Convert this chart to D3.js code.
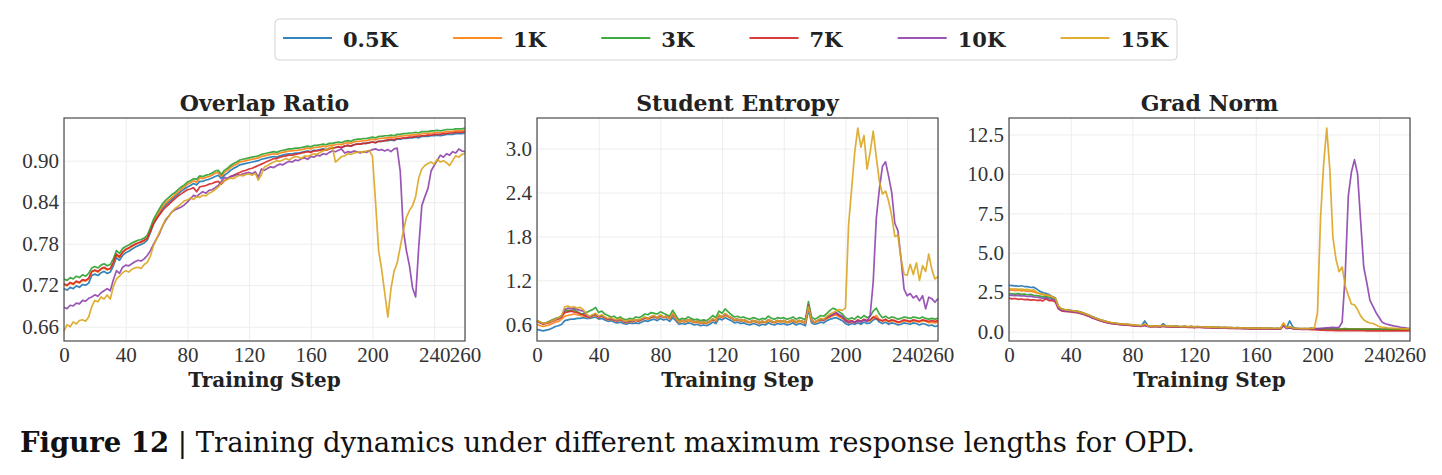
<!DOCTYPE html>
<html>
<head>
<meta charset="utf-8">
<script src="https://cdn.jsdelivr.net/npm/d3@7"></script>
<style>
  body { margin: 0; background: #fff; }
  .grid line { stroke: #ededed; stroke-width: 1; }
  .grid path { display: none; }
  .axis path { display: none; }
  .axis text { font-family: "Liberation Serif", serif; font-size: 21px; fill: #333; }
</style>
</head>
<body>
<script>
// x grid: training steps (every 2nd step)
var steps = d3.range(0, 261, 2);
var names = ["0.5K", "1K", "3K", "7K", "10K", "15K"];
var colors = ["#1f77b4", "#ff7f0e", "#2ca02c", "#d62728", "#8e44ad", "#daa520"];
var xTicks = [0, 40, 80, 120, 160, 200, 240, 260];
var ovlTicks = [0.66, 0.72, 0.78, 0.84, 0.90];
var entTicks = [0.6, 1.2, 1.8, 2.4, 3.0];
var gradTicks = [0, 2.5, 5, 7.5, 10, 12.5];

// ---- Overlap Ratio ----
var ovl_05k = [.715,.713,.717,.715,.719,.717,.721,.720,.723,.734,.736,.734,.738,.740,.737,.739,
  .748,.760,.756,.763,.767,.769,.772,.775,.777,.779,.781,.785,.796,.808,.816,.824,
  .831,.836,.840,.844,.848,.852,.856,.859,.862,.864,.867,.865,.870,.870,.872,.873,
  .875,.877,.879,.874,.879,.882,.886,.889,.891,.894,.895,.896,.897,.898,.899,.900,
  .902,.903,.904,.905,.906,.905,.907,.908,.909,.910,.910,.911,.911,.912,.913,.914,
  .913,.915,.915,.916,.917,.916,.918,.918,.919,.920,.919,.921,.922,.921,.923,.924,
  .924,.925,.925,.926,.927,.926,.928,.928,.929,.929,.930,.929,.931,.931,.932,.932,
  .933,.933,.934,.933,.935,.935,.935,.936,.936,.937,.936,.937,.938,.938,.938,.939,
  .939,.939,.940];
var ovl_1k = [.721,.719,.723,.721,.725,.723,.727,.726,.729,.739,.741,.739,.743,.745,.742,.744,
  .752,.764,.760,.767,.771,.773,.776,.779,.781,.782,.784,.788,.799,.811,.819,.827,
  .834,.839,.843,.847,.851,.855,.859,.862,.866,.868,.871,.869,.875,.874,.876,.877,
  .879,.882,.883,.877,.883,.886,.890,.893,.895,.898,.899,.900,.901,.902,.903,.904,
  .906,.907,.908,.909,.910,.909,.911,.912,.913,.914,.914,.915,.915,.916,.917,.918,
  .917,.919,.919,.920,.921,.920,.922,.922,.923,.924,.923,.925,.926,.925,.927,.928,
  .928,.929,.929,.930,.931,.930,.932,.932,.933,.933,.934,.933,.935,.935,.936,.936,
  .937,.937,.938,.937,.939,.939,.939,.940,.940,.941,.940,.941,.942,.942,.942,.943,
  .943,.943,.944];
var ovl_3k = [.729,.727,.731,.729,.733,.731,.735,.733,.737,.745,.747,.745,.749,.751,.748,.750,
  .758,.770,.766,.773,.776,.778,.781,.783,.785,.786,.788,.792,.803,.815,.823,.831,
  .838,.843,.847,.851,.854,.858,.862,.865,.869,.871,.874,.873,.878,.877,.879,.880,
  .882,.885,.886,.880,.886,.889,.893,.896,.898,.901,.902,.903,.904,.905,.906,.907,
  .909,.910,.911,.912,.913,.912,.914,.915,.916,.917,.917,.918,.918,.919,.920,.921,
  .920,.922,.922,.923,.924,.923,.925,.925,.926,.927,.926,.928,.929,.928,.930,.931,
  .931,.932,.932,.933,.934,.933,.935,.935,.936,.936,.937,.936,.938,.938,.939,.939,
  .940,.940,.941,.940,.942,.942,.942,.943,.943,.944,.943,.944,.945,.945,.945,.946,
  .946,.946,.947];
var ovl_7k = [.722,.720,.724,.722,.726,.724,.728,.727,.730,.740,.742,.740,.744,.746,.743,.744,
  .753,.765,.761,.768,.772,.774,.777,.779,.781,.783,.785,.788,.798,.809,.816,.822,
  .828,.833,.837,.841,.845,.849,.852,.855,.858,.859,.861,.855,.862,.863,.864,.866,
  .867,.869,.870,.866,.871,.874,.877,.879,.881,.883,.885,.886,.888,.889,.891,.893,
  .895,.897,.899,.901,.903,.903,.905,.906,.907,.908,.908,.909,.910,.911,.912,.913,
  .912,.914,.914,.915,.916,.915,.917,.918,.919,.920,.919,.921,.922,.921,.923,.924,
  .924,.925,.925,.926,.927,.926,.928,.928,.929,.930,.931,.930,.932,.932,.933,.933,
  .934,.934,.935,.935,.936,.936,.937,.937,.938,.938,.938,.939,.939,.940,.940,.941,
  .941,.941,.942];
var ovl_10k = [.688,.686,.691,.690,.694,.693,.698,.697,.701,.703,.706,.704,.709,.712,.715,.712,
  .728,.741,.737,.746,.749,.748,.751,.754,.756,.755,.758,.763,.770,.779,.787,.795,
  .806,.814,.820,.826,.829,.831,.833,.836,.840,.845,.850,.848,.852,.855,.853,.857,
  .858,.861,.864,.870,.876,.874,.877,.878,.880,.879,.881,.882,.883,.881,.884,.876,
  .888,.886,.889,.891,.890,.893,.895,.894,.897,.899,.898,.901,.900,.903,.904,.902,
  .906,.905,.908,.907,.910,.909,.912,.914,.913,.915,.917,.911,.913,.912,.914,.913,
  .911,.913,.912,.914,.916,.917,.915,.916,.914,.916,.913,.917,.918,.885,.800,.770,
  .748,.716,.703,.775,.835,.848,.860,.885,.893,.900,.908,.905,.910,.908,.913,.911,
  .917,.914,.913];
var ovl_15k = [.654,.663,.660,.667,.664,.669,.670,.668,.674,.689,.698,.696,.703,.700,.706,.700,
  .718,.729,.733,.738,.741,.739,.743,.745,.746,.744,.750,.753,.762,.777,.787,.797,
  .806,.816,.820,.826,.831,.834,.838,.842,.843,.846,.844,.848,.847,.850,.849,.853,
  .855,.858,.862,.867,.871,.873,.875,.874,.877,.879,.878,.880,.881,.879,.882,.872,
  .880,.891,.893,.896,.898,.900,.899,.901,.903,.901,.904,.906,.905,.903,.907,.906,
  .908,.910,.909,.912,.914,.916,.918,.920,.898,.902,.906,.907,.910,.909,.911,.912,
  .913,.912,.914,.915,.906,.840,.770,.742,.708,.674,.715,.740,.752,.775,.798,.818,
  .828,.835,.848,.875,.888,.893,.896,.898,.895,.902,.898,.900,.897,.893,.900,.907,
  .905,.909,.910];

// ---- Student Entropy ----
var ent_05k = [.53,.52,.51,.52,.53,.55,.57,.58,.60,.65,.66,.67,.67,.68,.68,.69,
  .68,.68,.69,.70,.67,.68,.66,.64,.65,.63,.62,.63,.61,.60,.62,.61,
  .62,.61,.63,.65,.64,.66,.67,.65,.68,.66,.67,.64,.69,.65,.60,.61,
  .60,.62,.61,.59,.60,.58,.59,.58,.60,.63,.61,.68,.66,.69,.67,.65,
  .62,.63,.61,.62,.60,.59,.61,.60,.58,.60,.59,.62,.60,.59,.61,.60,
  .61,.59,.60,.62,.59,.61,.60,.58,.80,.62,.60,.61,.63,.62,.65,.67,
  .68,.69,.67,.65,.61,.59,.61,.60,.62,.60,.63,.61,.62,.66,.68,.63,
  .61,.63,.60,.62,.61,.59,.60,.62,.61,.60,.62,.61,.59,.61,.60,.58,
  .59,.57,.58];
var ent_1k = [.60,.58,.57,.58,.59,.61,.63,.64,.67,.71,.72,.73,.74,.73,.72,.71,
  .70,.69,.71,.72,.69,.71,.68,.66,.67,.65,.64,.66,.63,.62,.64,.63,
  .65,.64,.66,.68,.67,.69,.70,.68,.71,.69,.70,.67,.72,.68,.62,.64,
  .63,.65,.64,.62,.63,.61,.62,.61,.63,.66,.64,.71,.69,.72,.70,.68,
  .65,.66,.64,.65,.63,.62,.64,.63,.61,.63,.62,.65,.63,.62,.64,.63,
  .64,.62,.63,.65,.62,.64,.63,.61,.84,.65,.62,.64,.66,.65,.68,.70,
  .72,.73,.70,.68,.64,.62,.63,.62,.65,.63,.66,.64,.65,.69,.72,.66,
  .64,.66,.63,.65,.64,.62,.63,.65,.64,.63,.65,.64,.63,.65,.64,.62,
  .63,.62,.63];
var ent_3k = [.65,.63,.61,.62,.64,.66,.68,.69,.72,.78,.79,.78,.80,.77,.75,.74,
  .76,.78,.80,.83,.76,.78,.74,.72,.70,.71,.68,.70,.67,.66,.68,.67,
  .70,.69,.71,.74,.73,.76,.75,.74,.77,.75,.73,.71,.79,.72,.66,.68,
  .67,.70,.68,.66,.67,.65,.66,.65,.68,.72,.69,.78,.75,.81,.77,.73,
  .70,.71,.69,.70,.68,.67,.69,.68,.66,.68,.67,.71,.68,.67,.69,.68,
  .69,.67,.68,.70,.67,.69,.68,.66,.91,.70,.67,.69,.72,.71,.75,.79,
  .82,.80,.77,.74,.69,.67,.69,.67,.71,.68,.72,.69,.71,.78,.82,.74,
  .69,.71,.68,.70,.69,.67,.68,.70,.69,.68,.70,.69,.68,.70,.68,.67,
  .68,.67,.68];
var ent_7k = [.64,.62,.60,.61,.62,.64,.66,.67,.70,.76,.77,.78,.77,.76,.74,.73,
  .71,.70,.72,.74,.70,.72,.69,.67,.68,.66,.65,.67,.64,.63,.65,.64,
  .66,.65,.67,.69,.68,.70,.71,.69,.72,.70,.71,.68,.74,.69,.63,.65,
  .64,.66,.65,.63,.64,.62,.63,.62,.64,.67,.65,.72,.70,.74,.71,.69,
  .66,.67,.65,.66,.64,.63,.65,.64,.62,.64,.63,.66,.64,.63,.65,.64,
  .65,.63,.64,.66,.63,.65,.64,.62,.86,.66,.63,.65,.67,.66,.69,.71,
  .73,.75,.72,.70,.66,.64,.65,.63,.66,.64,.67,.65,.66,.70,.68,.66,
  .65,.67,.64,.66,.65,.63,.64,.66,.65,.64,.66,.65,.64,.66,.65,.64,
  .65,.64,.65];
var ent_10k = [.64,.62,.61,.62,.63,.65,.67,.68,.71,.80,.82,.81,.82,.80,.79,.78,
  .72,.70,.72,.74,.70,.72,.69,.67,.68,.66,.65,.67,.64,.63,.65,.64,
  .66,.65,.67,.69,.68,.70,.71,.69,.72,.70,.71,.68,.74,.69,.63,.65,
  .64,.66,.65,.63,.64,.62,.63,.62,.64,.67,.65,.72,.70,.74,.71,.69,
  .66,.67,.65,.66,.64,.63,.65,.64,.62,.64,.63,.66,.64,.63,.65,.64,
  .65,.63,.64,.66,.63,.65,.64,.62,.85,.66,.63,.65,.67,.66,.70,.72,
  .74,.76,.73,.71,.64,.62,.64,.62,.65,.63,.66,.64,.72,1.18,2.05,2.45,
  2.76,2.82,2.62,2.40,1.98,1.88,1.50,1.08,.99,1.02,.96,.99,.92,.99,.81,.97,
  .95,.90,.95];
var ent_15k = [.65,.63,.61,.62,.63,.65,.67,.69,.72,.84,.85,.83,.84,.82,.83,.80,
  .74,.71,.73,.75,.71,.73,.70,.68,.69,.67,.66,.68,.65,.64,.66,.65,
  .66,.66,.68,.70,.68,.71,.72,.69,.73,.70,.71,.68,.75,.69,.63,.65,
  .64,.66,.65,.63,.64,.62,.63,.62,.64,.68,.65,.73,.70,.75,.71,.69,
  .66,.67,.65,.66,.64,.63,.65,.64,.62,.64,.63,.66,.64,.63,.65,.64,
  .65,.63,.64,.66,.63,.65,.64,.62,.84,.66,.63,.65,.68,.67,.71,.74,
  .76,.78,.80,.79,.82,1.95,2.45,2.95,3.28,3.02,3.18,2.72,2.95,3.24,2.88,2.55,
  2.38,2.42,2.28,2.08,1.80,1.82,1.50,1.28,1.27,1.42,1.28,1.44,1.20,1.40,1.32,1.56,
  1.35,1.22,1.25];

// ---- Grad Norm ----
var grad_05k = [2.94,2.92,2.90,2.88,2.91,2.86,2.85,2.80,2.82,2.70,2.55,2.48,2.42,2.35,2.22,2.15,
  1.62,1.45,1.40,1.38,1.35,1.32,1.30,1.25,1.20,1.12,1.05,.95,.88,.80,.74,.68,
  .63,.58,.55,.52,.50,.48,.47,.45,.43,.40,.39,.38,.68,.37,.35,.37,
  .36,.34,.50,.35,.34,.33,.35,.33,.32,.34,.31,.33,.30,.32,.31,.30,
  .29,.30,.28,.27,.28,.26,.27,.25,.26,.24,.25,.24,.23,.24,.22,.23,
  .22,.23,.21,.22,.21,.22,.20,.21,.20,.45,.25,.68,.30,.22,.20,.19,
  .20,.19,.21,.20,.19,.20,.18,.19,.20,.18,.19,.17,.18,.19,.17,.18,
  .17,.18,.16,.17,.18,.16,.17,.16,.17,.15,.16,.17,.15,.16,.15,.16,
  .15,.16,.15];
var grad_1k = [2.62,2.65,2.60,2.63,2.58,2.61,2.55,2.58,2.52,2.45,2.40,2.35,2.32,2.28,2.18,2.10,
  1.58,1.42,1.38,1.36,1.33,1.31,1.28,1.23,1.18,1.10,1.03,.93,.86,.78,.72,.66,
  .61,.57,.54,.51,.49,.47,.46,.44,.42,.40,.38,.37,.45,.36,.34,.35,
  .35,.33,.38,.34,.33,.32,.34,.32,.31,.33,.30,.32,.29,.31,.30,.29,
  .28,.29,.27,.26,.27,.25,.26,.24,.25,.23,.24,.23,.22,.23,.21,.22,
  .21,.22,.20,.21,.20,.21,.19,.20,.19,.52,.24,.30,.22,.20,.19,.18,
  .19,.18,.20,.19,.18,.19,.17,.18,.19,.17,.18,.16,.17,.18,.16,.17,
  .16,.17,.15,.16,.17,.15,.16,.15,.16,.14,.15,.16,.14,.15,.14,.15,
  .14,.15,.14];
var grad_3k = [2.42,2.40,2.38,2.41,2.36,2.38,2.34,2.36,2.30,2.28,2.25,2.20,2.22,2.16,2.12,2.05,
  1.55,1.40,1.36,1.34,1.31,1.29,1.26,1.21,1.16,1.08,1.01,.91,.84,.76,.70,.64,
  .59,.55,.52,.49,.47,.45,.44,.42,.40,.38,.37,.36,.42,.35,.33,.34,
  .34,.32,.36,.33,.32,.31,.33,.31,.30,.32,.29,.31,.28,.30,.29,.28,
  .27,.28,.26,.25,.26,.24,.25,.23,.24,.22,.23,.22,.21,.22,.20,.21,
  .20,.21,.19,.20,.19,.20,.18,.19,.18,.40,.22,.28,.21,.19,.18,.17,
  .18,.17,.19,.18,.17,.18,.16,.17,.18,.16,.17,.15,.16,.17,.15,.16,
  .15,.16,.14,.15,.16,.14,.15,.14,.15,.13,.14,.15,.13,.14,.13,.14,
  .13,.14,.13];
var grad_7k = [2.12,2.08,2.10,2.05,2.07,2.03,2.05,2.00,2.02,1.98,2.00,1.95,2.08,1.96,1.98,1.88,
  1.45,1.32,1.28,1.27,1.25,1.22,1.20,1.15,1.10,1.02,.96,.86,.80,.72,.66,.60,
  .56,.52,.49,.47,.45,.43,.42,.40,.38,.36,.35,.34,.40,.33,.31,.32,
  .32,.30,.34,.31,.30,.29,.31,.29,.28,.30,.27,.29,.26,.28,.27,.26,
  .25,.26,.24,.23,.24,.22,.23,.21,.22,.20,.21,.20,.19,.20,.18,.19,
  .18,.19,.17,.18,.17,.18,.16,.17,.16,.38,.20,.24,.19,.17,.16,.15,
  .15,.14,.13,.12,.11,.10,.09,.08,.09,.08,.07,.08,.07,.08,.07,.06,
  .07,.06,.07,.06,.05,.06,.05,.06,.05,.06,.05,.05,.06,.05,.05,.06,
  .05,.05,.06];
var grad_10k = [2.32,2.30,2.28,2.30,2.26,2.27,2.23,2.25,2.20,2.18,2.15,2.10,2.14,2.07,2.05,1.98,
  1.50,1.36,1.32,1.30,1.28,1.25,1.23,1.18,1.13,1.05,.98,.88,.82,.74,.68,.62,
  .57,.53,.50,.48,.46,.44,.43,.41,.39,.37,.36,.35,.41,.34,.32,.33,
  .33,.31,.35,.32,.31,.30,.32,.30,.29,.31,.28,.30,.27,.29,.28,.27,
  .26,.27,.25,.24,.25,.23,.24,.22,.23,.21,.22,.21,.20,.21,.19,.20,
  .19,.20,.18,.19,.18,.19,.17,.18,.17,.39,.21,.26,.20,.18,.17,.16,
  .17,.18,.19,.20,.18,.20,.22,.24,.26,.27,.25,.28,.60,3.60,8.60,10.1,
  10.9,10.0,7.0,4.1,3.1,2.0,1.6,1.2,.90,.60,.50,.45,.40,.35,.32,.28,
  .26,.22,.20];
var grad_15k = [2.73,2.70,2.72,2.68,2.70,2.66,2.68,2.62,2.65,2.50,2.42,2.38,2.32,2.30,2.20,2.12,
  1.60,1.44,1.40,1.37,1.34,1.32,1.29,1.24,1.19,1.11,1.04,.94,.87,.79,.73,.67,
  .62,.58,.55,.52,.50,.48,.47,.45,.43,.41,.39,.38,.48,.37,.35,.36,
  .36,.34,.40,.35,.34,.33,.35,.33,.32,.34,.31,.33,.30,.32,.31,.30,
  .29,.30,.28,.27,.28,.26,.27,.25,.26,.24,.25,.24,.23,.24,.22,.23,
  .22,.23,.21,.22,.21,.22,.20,.21,.20,.55,.25,.32,.23,.21,.20,.19,
  .20,.19,.21,.22,1.20,7.20,10.6,12.9,10.3,6.0,4.6,3.8,4.1,2.9,2.3,1.75,
  1.70,1.40,1.00,.75,.62,.55,.52,.42,.32,.28,.27,.23,.22,.21,.20,.19,
  .18,.19,.18];

var svgWidth = 1442, svgHeight = 475;
var plotTop = 118, plotW = 401, plotH = 223;

var svg = d3.select("body")
  .append("svg")
  .attr("width", svgWidth)
  .attr("height", svgHeight);

var panels = [
  {title: "Overlap Ratio", left: 64, series: [ovl_05k, ovl_1k, ovl_3k, ovl_7k, ovl_10k, ovl_15k], ticks: ovlTicks, fmt: ".2f"},
  {title: "Student Entropy", left: 537, series: [ent_05k, ent_1k, ent_3k, ent_7k, ent_10k, ent_15k], ticks: entTicks, fmt: ".1f"},
  {title: "Grad Norm", left: 1009, series: [grad_05k, grad_1k, grad_3k, grad_7k, grad_10k, grad_15k], ticks: gradTicks, fmt: ".1f"}
];

panels.forEach(function(p) {
  var g = svg.append("g").attr("transform", `translate(${p.left}, ${plotTop})`);

  // y range with 5% margins like matplotlib
  var ext = d3.extent(d3.merge(p.series));
  var pad = (ext[1] - ext[0]) * 0.05;

  var x = d3.scaleLinear().domain([0, 260]).range([0, plotW]);
  var y = d3.scaleLinear().domain([ext[0] - pad, ext[1] + pad]).range([plotH, 0]);

  // grid
  g.append("g").attr("class", "grid")
    .attr("transform", `translate(0, ${plotH})`)
    .call(d3.axisBottom(x).tickValues(xTicks).tickSize(-plotH).tickFormat(""));
  g.append("g").attr("class", "grid")
    .call(d3.axisLeft(y).tickValues(p.ticks).tickSize(-plotW).tickFormat(""));

  var line = d3.line()
    .x((d, i) => x(steps[i]))
    .y(d => y(d));

  p.series.forEach(function(s, k) {
    g.append("path")
      .datum(s)
      .attr("d", line)
      .attr("fill", "none")
      .attr("stroke", colors[k])
      .attr("stroke-width", 1.7)
      .attr("stroke-opacity", 0.9)
      .attr("stroke-linejoin", "round");
  });

  // frame
  g.append("rect")
    .attr("width", plotW)
    .attr("height", plotH)
    .attr("fill", "none")
    .attr("stroke", "#4a4a4a")
    .attr("stroke-width", 1.2);

  // axes
  g.append("g").attr("class", "axis")
    .attr("transform", `translate(0, ${plotH})`)
    .call(d3.axisBottom(x).tickValues(xTicks).tickSize(0).tickPadding(6));
  g.append("g").attr("class", "axis")
    .call(d3.axisLeft(y).tickValues(p.ticks).tickSize(0).tickPadding(5).tickFormat(d3.format(p.fmt)));

  // title + x label
  g.append("text")
    .attr("x", plotW / 2)
    .attr("y", -7)
    .attr("text-anchor", "middle")
    .style("font-family", "'DejaVu Serif', serif")
    .style("font-weight", "bold")
    .style("font-size", "22px")
    .style("fill", "#222")
    .text(p.title);

  g.append("text")
    .attr("x", plotW / 2)
    .attr("y", 269)
    .attr("text-anchor", "middle")
    .style("font-family", "'DejaVu Serif', serif")
    .style("font-weight", "bold")
    .style("font-size", "20px")
    .style("fill", "#222")
    .text("Training Step");
});

// legend
var legend = svg.append("g");
legend.append("rect")
  .attr("x", 275).attr("y", 19)
  .attr("width", 902).attr("height", 41)
  .attr("rx", 4)
  .attr("fill", "#fff")
  .attr("stroke", "#d4d4d4");

var labels = names.map(function(n) {
  return legend.append("text")
    .attr("y", 47)
    .style("font-family", "'DejaVu Serif', serif")
    .style("font-weight", "bold")
    .style("font-size", "21px")
    .style("fill", "#222")
    .text(n);
});
var widths = labels.map(t => t.node().getComputedTextLength());
var colSpace = (1168 - 283 - d3.sum(widths) - 6 * 60) / 5;
var lx = 283;
labels.forEach(function(t, i) {
  legend.append("line")
    .attr("x1", lx).attr("x2", lx + 49)
    .attr("y1", 38).attr("y2", 38)
    .attr("stroke", colors[i])
    .attr("stroke-width", 1.8)
    .attr("stroke-opacity", 0.9);
  t.attr("x", lx + 60);
  lx += 60 + widths[i] + colSpace;
});

// caption
var cap = svg.append("text")
  .attr("x", 20)
  .attr("y", 452)
  .style("font-family", "'DejaVu Serif', serif")
  .style("font-size", "27.5px")
  .style("fill", "#111");
cap.append("tspan").style("font-weight", "bold").text("Figure 12");
cap.append("tspan").text(" | Training dynamics under different maximum response lengths for OPD.");
</script>
</body>
</html>
